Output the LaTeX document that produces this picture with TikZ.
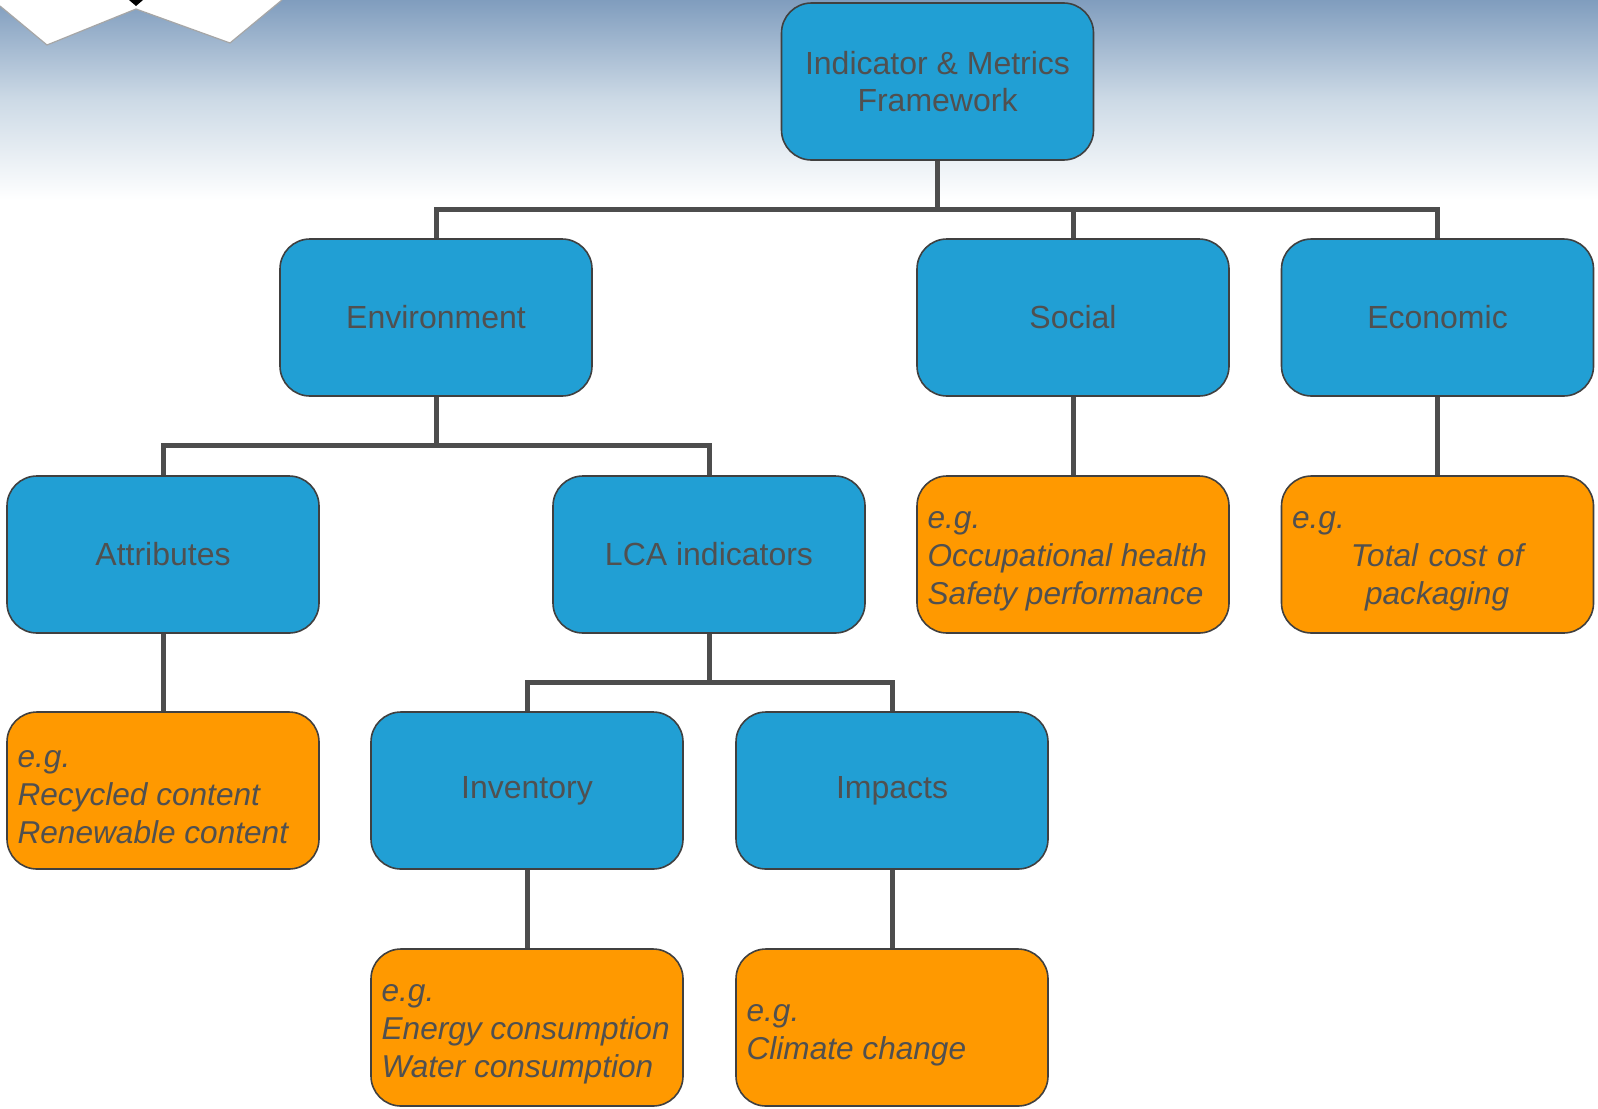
\documentclass[tikz,border=0pt]{standalone}
\usepackage{fontspec}
\setmainfont{Liberation Sans}
\definecolor{boxblue}{RGB}{33,159,212}
\definecolor{boxorange}{RGB}{255,153,0}
\definecolor{txtgray}{RGB}{80,80,80}
\definecolor{edgegray}{RGB}{64,64,64}
\definecolor{conngray}{RGB}{77,77,77}
\definecolor{topblue}{RGB}{128,157,190}
\definecolor{midblue}{RGB}{205,218,230}
\begin{document}
\begin{tikzpicture}[x=0.5pt,y=-0.5pt,
  basebox/.style={draw=edgegray, line width=0.8pt, rounded corners=15pt,
    minimum width=156pt, minimum height=78.5pt, inner sep=0pt},
  bbox/.style={basebox, fill=boxblue, text=txtgray, align=center,
    font=\fontsize{16pt}{18.4pt}\selectfont},
  obox/.style={basebox, fill=boxorange},
  otext/.style={anchor=west, text=txtgray, align=left, inner sep=0pt,
    font=\fontsize{15.8pt}{19pt}\selectfont\itshape},
  conn/.style={draw=conngray, line width=2.5pt}]
\useasboundingbox (0,0) rectangle (1598,1108);
% background
\fill[white] (0,0) rectangle (1598,1108);
\shade[top color=topblue, bottom color=white, middle color=midblue, shading angle=0] (0,0) rectangle (1598,200);
\fill[white] (0,0) -- (0,6) -- (47,45) -- (136,9) -- (230,43) -- (282,0) -- cycle;
\draw[gray!70, line width=0.6pt] (0,6) -- (47,45) -- (136,9) -- (230,43) -- (282,0);
\fill[black] (129,0) -- (136,6) -- (143,0) -- cycle;
% bus coordinates
\coordinate (bus1) at (0,209);
\coordinate (bus2) at (0,445);
\coordinate (bus3) at (0,682);
% boxes
\node[bbox] (top) at (937.5,81.5) {Indicator \& Metrics\\Framework};
\node[bbox] (env) at (436,317.5) {Environment};
\node[bbox] (soc) at (1073,317.5) {Social};
\node[bbox] (eco) at (1437.5,317.5) {Economic};
\node[bbox] (attr) at (163,554.5) {Attributes};
\node[bbox] (lca) at (709,554.5) {LCA indicators};
\node[obox] (soceg) at (1073,554.5) {};
\node[obox] (ecoeg) at (1437.5,554.5) {};
\node[obox] (receg) at (163,790.5) {};
\node[bbox] (inv) at (527,790.5) {Inventory};
\node[bbox] (imp) at (892,790.5) {Impacts};
\node[obox] (inveg) at (527,1027.5) {};
\node[obox] (impeg) at (892,1027.5) {};
% texts in orange boxes
\node[otext] (soceg-t) at ([xshift=5.5pt,yshift=-3.4pt]soceg.west) {e.g.\\Occupational health\\Safety performance};
\node[otext, text width=145pt] (ecoeg-t) at ([xshift=5.5pt,yshift=-3.4pt]ecoeg.west) {e.g.\\\makebox[\hsize]{Total cost of}\\\makebox[\hsize]{packaging}};
\node[otext] (receg-t) at ([xshift=5.5pt,yshift=-3.2pt]receg.west) {e.g.\\Recycled content\\Renewable content};
\node[otext] (inveg-t) at ([xshift=5.5pt,yshift=-3.2pt]inveg.west) {e.g.\\Energy consumption\\Water consumption};
\node[otext] (impeg-t) at ([xshift=5.5pt,yshift=-3.8pt]impeg.west) {e.g.\\Climate change};
% connectors
\draw[conn] (top.south) -- (top.south |- bus1);
\draw[conn] (env.north) |- (bus1 -| eco.north) -- (eco.north);
\draw[conn] (soc.north) -- (soc.north |- bus1);
\draw[conn] (env.south) -- (env.south |- bus2);
\draw[conn] (attr.north) |- (bus2 -| lca.north) -- (lca.north);
\draw[conn] (lca.south) -- (lca.south |- bus3);
\draw[conn] (inv.north) |- (bus3 -| imp.north) -- (imp.north);
\draw[conn] (soc.south) -- (soceg.north);
\draw[conn] (eco.south) -- (ecoeg.north);
\draw[conn] (attr.south) -- (receg.north);
\draw[conn] (inv.south) -- (inveg.north);
\draw[conn] (imp.south) -- (impeg.north);
\end{tikzpicture}
\end{document}
